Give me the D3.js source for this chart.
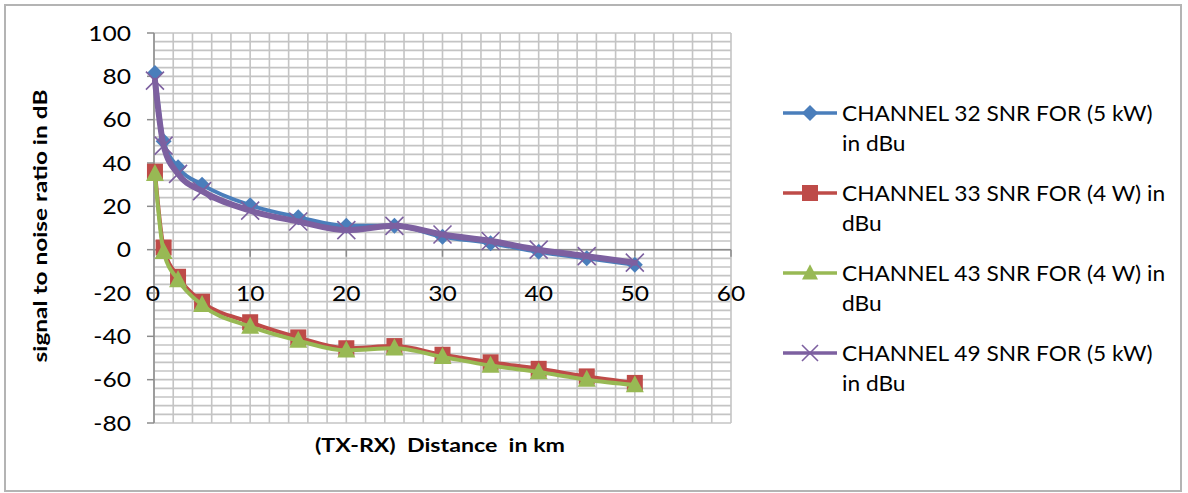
<!DOCTYPE html>
<html><head><meta charset="utf-8">
<script src="https://cdn.jsdelivr.net/npm/d3@7"></script>
<style>
html,body{margin:0;padding:0;background:#fff;}
svg{display:block;font-family:"Lato","Liberation Sans",sans-serif;}
</style></head>
<body>
<svg id="chart" width="1188" height="493"></svg>
<script>
const distances = [0.1, 1, 2.5, 5, 10, 15, 20, 25, 30, 35, 40, 45, 50];
const ch32 = [81.5, 50, 38, 30, 20.5, 15, 11, 11, 6, 3, -1, -4, -7];
const ch33 = [36, 1, -12.5, -24, -33.5, -40.5, -45.5, -44.5, -48.5, -52, -55, -58.5, -61.5];
const ch43 = [35, -1, -14, -25.5, -35.5, -42, -46.5, -45.5, -49.5, -53.5, -56.5, -60, -62.5];
const ch49 = [78, 48, 35, 27, 18, 13, 9, 11, 7, 4, 0, -3, -6];
const xTicks = [0, 10, 20, 30, 40, 50, 60];
const yTicks = [-80, -60, -40, -20, 0, 20, 40, 60, 80, 100];
const seriesNames = ["CHANNEL 32 SNR FOR (5 kW)|in dBu", "CHANNEL 33 SNR FOR (4 W) in|dBu", "CHANNEL 43 SNR FOR (4 W) in|dBu", "CHANNEL 49 SNR FOR (5 kW)|in dBu"];
const seriesColors = ["#4a7ebb", "#be4b48", "#98b954", "#7d60a0"];
const seriesMarkers = ["diamond", "square", "triangle", "cross"];

const svg = d3.select("#chart");
function stretch(sel, f) {
  sel.each(function () {
    const w = this.getComputedTextLength();
    d3.select(this).attr("textLength", w * f).attr("lengthAdjust", "spacingAndGlyphs");
  });
}
svg.append("rect").attr("x", 5).attr("y", 5).attr("width", 1176).attr("height", 486)
  .attr("fill", "#fff").attr("stroke", "#b4b4b4").attr("stroke-width", 2);

const L = 154, R = 731, T = 33, B = 423;
const x = d3.scaleLinear().domain([0, 60]).range([L, R]);
const y = d3.scaleLinear().domain([-80, 100]).range([B, T]);

const g = svg.append("g");
const gridColor = "#c4c4c4";
g.selectAll(".vg").data(d3.range(0, 61, 2)).enter().append("line")
  .attr("x1", d => x(d)).attr("x2", d => x(d)).attr("y1", T).attr("y2", B)
  .attr("stroke", gridColor).attr("stroke-width", 1.6);
g.selectAll(".hg").data(d3.range(-80, 101, 4)).enter().append("line")
  .attr("x1", L).attr("x2", R).attr("y1", d => y(d)).attr("y2", d => y(d))
  .attr("stroke", gridColor).attr("stroke-width", 1.6);

const axisColor = "#8c8c8c";
g.append("line").attr("x1", x(0)).attr("x2", x(0)).attr("y1", T).attr("y2", B)
  .attr("stroke", axisColor).attr("stroke-width", 1.5);
g.append("line").attr("x1", L).attr("x2", R).attr("y1", y(0)).attr("y2", y(0))
  .attr("stroke", axisColor).attr("stroke-width", 1.5);
g.selectAll(".yt").data(yTicks).enter().append("line")
  .attr("x1", x(0) - 7).attr("x2", x(0)).attr("y1", d => y(d)).attr("y2", d => y(d))
  .attr("stroke", axisColor).attr("stroke-width", 1.5);
g.selectAll(".xt").data(xTicks).enter().append("line")
  .attr("x1", d => x(d)).attr("x2", d => x(d)).attr("y1", y(0)).attr("y2", y(0) + 7)
  .attr("stroke", axisColor).attr("stroke-width", 1.5);

const ytl = svg.selectAll(".ytl").data(yTicks).enter().append("text")
  .attr("x", 131).attr("y", d => y(d)).attr("dy", "0.36em")
  .attr("text-anchor", "end").attr("font-size", 21).attr("fill", "#000")
  .text(d => d);
stretch(ytl, 1.17);
const xtl = svg.selectAll(".xtl").data(xTicks).enter().append("text")
  .attr("x", d => x(d) - (d === 0 ? 1 : 0)).attr("y", y(-20)).attr("dy", "0.36em")
  .attr("text-anchor", "middle").attr("font-size", 21).attr("fill", "#000")
  .text(d => d);
stretch(xtl, 1.17);

svg.append("text").attr("transform", `translate(40,226) rotate(-90)`)
  .attr("text-anchor", "middle").attr("dy", "0.36em").attr("font-weight", "bold")
  .attr("font-size", 19).attr("textLength", 273).attr("lengthAdjust", "spacingAndGlyphs")
  .text("signal to noise ratio in dB");
svg.append("text").attr("x", 440).attr("y", 445).attr("dy", "0.36em")
  .attr("text-anchor", "middle").attr("font-weight", "bold").attr("font-size", 19)
  .attr("textLength", 250).attr("lengthAdjust", "spacingAndGlyphs")
  .style("white-space", "pre")
  .text("(TX-RX)  Distance  in km");

function drawMarker(sel, type, color, cx, cy, s) {
  if (type === "diamond") {
    sel.append("path").attr("d", `M${cx},${cy - s}L${cx + s},${cy}L${cx},${cy + s}L${cx - s},${cy}Z`)
      .attr("fill", color);
  } else if (type === "square") {
    sel.append("rect").attr("x", cx - s).attr("y", cy - s).attr("width", 2 * s).attr("height", 2 * s)
      .attr("fill", color);
  } else if (type === "triangle") {
    sel.append("path").attr("d", `M${cx},${cy - s * 1.1}L${cx + s},${cy + s * 0.8}L${cx - s},${cy + s * 0.8}Z`)
      .attr("fill", color);
  } else {
    sel.append("path").attr("d", `M${cx - s},${cy - s}L${cx + s},${cy + s}M${cx - s},${cy + s}L${cx + s},${cy - s}`)
      .attr("stroke", color).attr("stroke-width", 1.6).attr("fill", "none");
  }
}

const allSeries = [ch32, ch33, ch43, ch49];
const markerSize = [8, 8, 9, 9];
const lineWidths = [4, 4, 4, 6];
const line = d3.line().x(d => x(d[0])).y(d => y(d[1])).curve(d3.curveMonotoneX);

allSeries.forEach((vals, i) => {
  const pts = distances.map((d, j) => [d, vals[j]]);
  const sg = svg.append("g");
  sg.append("path").datum(pts).attr("d", line).attr("fill", "none")
    .attr("stroke", seriesColors[i]).attr("stroke-width", lineWidths[i])
    .attr("stroke-linejoin", "round").attr("stroke-linecap", "round");
  pts.forEach(p => drawMarker(sg, seriesMarkers[i], seriesColors[i], x(p[0]), y(p[1]), markerSize[i]));
});

const legY = [113, 193, 273, 353];
seriesNames.forEach((name, i) => {
  const lg = svg.append("g");
  lg.append("line").attr("x1", 783).attr("x2", 837).attr("y1", legY[i]).attr("y2", legY[i])
    .attr("stroke", seriesColors[i]).attr("stroke-width", 3.5);
  drawMarker(lg, seriesMarkers[i], seriesColors[i], 810, legY[i], 8);
  const parts = name.split("|");
  parts.forEach((p, k) => {
    const t = lg.append("text").attr("x", 842).attr("y", legY[i] + k * 30).attr("dy", "0.36em")
      .attr("font-size", 21).attr("fill", "#000").text(p);
    stretch(t, 1.08);
  });
});
</script>
</body></html>
